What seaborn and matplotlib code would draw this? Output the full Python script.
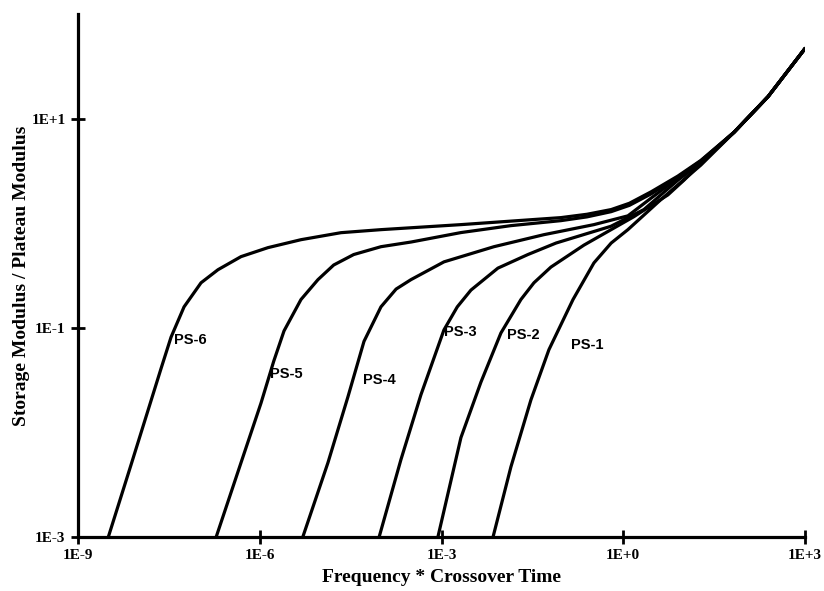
import numpy as np
import pandas as pd
import matplotlib
matplotlib.use("Agg")
import matplotlib.pyplot as plt
import seaborn as sns

# ---- data (log10 values) ----
samples = ["PS-6", "PS-5", "PS-4", "PS-3", "PS-2", "PS-1"]

ps6_lx = [-8.50, -8.125, -7.845, -7.63, -7.465, -7.25, -6.97, -6.69, -6.31, -5.865, -5.32, -4.66, -4.0, -2.68, -1.03, -0.60, -0.20, 0.10, 0.46, 0.90, 1.28]
ps6_ly = [-3.0, -2.31, -1.79, -1.39, -1.09, -0.80, -0.57, -0.445, -0.32, -0.234, -0.158, -0.091, -0.062, -0.014, 0.053, 0.085, 0.13, 0.19, 0.30, 0.45, 0.60]

ps5_lx = [-6.72, -6.31, -5.98, -5.77, -5.60, -5.32, -5.04, -4.78, -4.45, -4.0, -3.5, -2.68, -1.86, -1.03, -0.60, -0.2, 0.10, 0.46, 0.90, 1.28]
ps5_ly = [-3.0, -2.29, -1.72, -1.32, -1.03, -0.73, -0.54, -0.40, -0.30, -0.225, -0.18, -0.09, -0.024, 0.024, 0.06, 0.11, 0.17, 0.28, 0.44, 0.595]

ps4_lx = [-5.29, -4.875, -4.545, -4.28, -4.0, -3.75, -3.505, -2.96, -2.135, -1.31, -0.485, 0.076, 0.46, 0.90, 1.28]
ps4_ly = [-3.0, -2.29, -1.66, -1.13, -0.80, -0.63, -0.54, -0.37, -0.225, -0.11, -0.014, 0.07, 0.24, 0.43, 0.59]

ps3_lx = [-4.03, -3.67, -3.34, -2.96, -2.74, -2.515, -2.07, -1.575, -1.11, -0.205, 0.34, 0.70, 0.90, 1.28]
ps3_ly = [-3.0, -2.26, -1.64, -1.02, -0.80, -0.64, -0.43, -0.30, -0.19, -0.03, 0.13, 0.31, 0.41, 0.58]

ps2_lx = [-3.06, -2.68, -2.35, -2.02, -1.69, -1.475, -1.195, -0.65, 0.175, 0.736, 1.0, 1.28]
ps2_ly = [-3.0, -2.05, -1.52, -1.05, -0.73, -0.57, -0.42, -0.21, 0.062, 0.27, 0.41, 0.57]

ps1_lx = [-2.15, -1.855, -1.525, -1.228, -0.83, -0.485, -0.20, 0.076, 0.62, 1.0, 1.28]
ps1_ly = [-3.0, -2.33, -1.69, -1.21, -0.73, -0.38, -0.19, -0.062, 0.225, 0.416, 0.555]

# shared high-frequency tail
tail_lx = [1.83, 2.39, 3.0]
tail_ly = [0.87, 1.21, 1.67]

# label anchor positions (log10 x, log10 y)
label_lx = [-7.41, -5.83, -4.30, -2.96, -1.92, -0.865]
label_ly = [-1.12, -1.44, -1.50, -1.04, -1.07, -1.16]

xtick_exp = [-9, -6, -3, 0, 3]
xtick_labels = ["1E-9", "1E-6", "1E-3", "1E+0", "1E+3"]
ytick_exp = [-3, -1, 1]
ytick_labels = ["1E-3", "1E-1", "1E+1"]

curves_lx = [ps6_lx, ps5_lx, ps4_lx, ps3_lx, ps2_lx, ps1_lx]
curves_ly = [ps6_ly, ps5_ly, ps4_ly, ps3_ly, ps2_ly, ps1_ly]

rows = []
for name, lx, ly in zip(samples, curves_lx, curves_ly):
    for a, b in zip(lx + tail_lx, ly + tail_ly):
        rows.append({"sample": name, "freq": 10.0 ** a, "mod": 10.0 ** b})
df = pd.DataFrame(rows)

# ---- figure ----
sns.set_style("white")
plt.rcParams["font.family"] = ["Liberation Serif", "DejaVu Serif"]
plt.rcParams["text.color"] = "black"
plt.rcParams["axes.labelcolor"] = "black"
plt.rcParams["xtick.color"] = "black"
plt.rcParams["ytick.color"] = "black"

fig = plt.figure(figsize=(8.24, 5.91), dpi=100)
ax = fig.add_axes([0.0947, 0.0914, 0.8823, 0.885])
ax.set_xscale("log")
ax.set_yscale("log")

sns.lineplot(data=df, x="freq", y="mod", units="sample", estimator=None,
             sort=False, color="black", linewidth=2.3, ax=ax, legend=False)

ax.set_xlim(1e-9, 1e3)
ax.set_ylim(1e-3, 1e2)

for name, a, b in zip(samples, label_lx, label_ly):
    ax.text(10.0 ** a, 10.0 ** b, name, ha="left", va="center", color="black",
            fontsize=10.5, fontweight="bold", family=["Liberation Sans", "DejaVu Sans"])

ax.set_xticks([10.0 ** e for e in xtick_exp])
ax.set_xticklabels(xtick_labels)
ax.set_yticks([10.0 ** e for e in ytick_exp])
ax.set_yticklabels(ytick_labels)
ax.minorticks_off()
ax.tick_params(axis="both", which="major", direction="inout", length=10, width=2,
               labelsize=11, pad=4, color="black", labelcolor="black",
               bottom=True, left=True)
for lab in ax.get_xticklabels() + ax.get_yticklabels():
    lab.set_fontweight("bold")

ax.set_xlabel("Frequency * Crossover Time", fontsize=14, fontweight="bold",
              labelpad=5, color="black")
ax.set_ylabel("Storage Modulus / Plateau Modulus", fontsize=14, fontweight="bold",
              labelpad=1, color="black")

for s in ["top", "right"]:
    ax.spines[s].set_visible(False)
for s in ["left", "bottom"]:
    ax.spines[s].set_linewidth(2.3)
    ax.spines[s].set_color("black")

fig.savefig("out.png", dpi=100, facecolor="white")
